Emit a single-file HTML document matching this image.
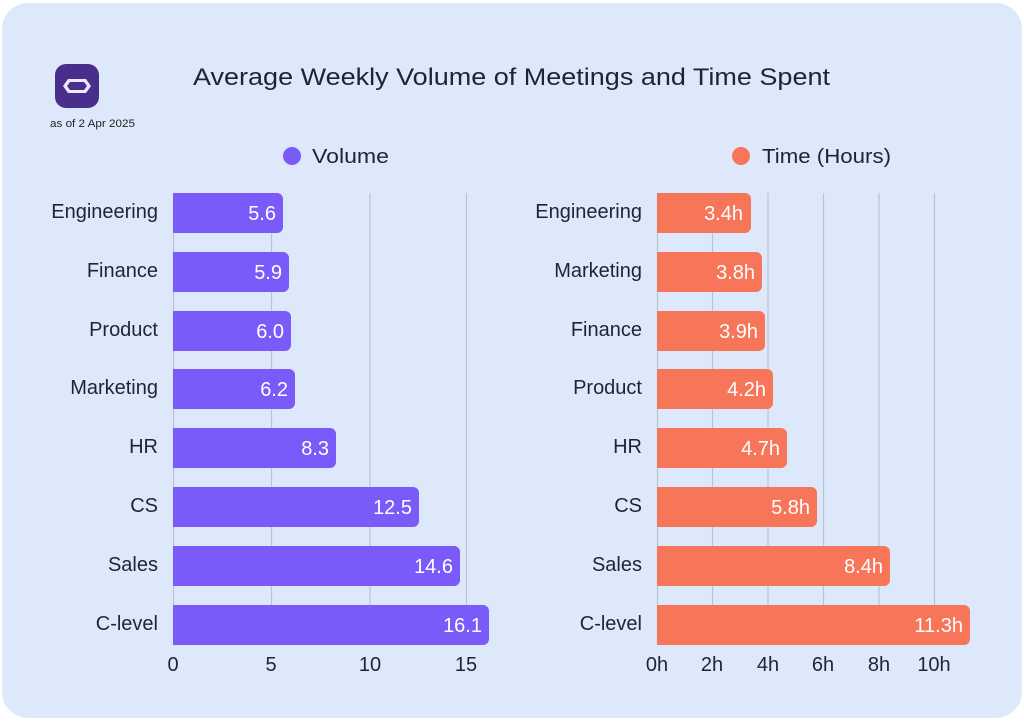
<!DOCTYPE html>
<html><head><meta charset="utf-8"><style>
body{margin:0;background:#fff;width:1024px;height:722px;overflow:hidden;font-family:"Liberation Sans",sans-serif}
</style></head><body>
<svg width="1024" height="722" xmlns="http://www.w3.org/2000/svg" font-family="Liberation Sans, sans-serif">
<rect x="2" y="3" width="1020" height="715" rx="26" fill="#dde9fb"/>
<rect x="55" y="64" width="44" height="44" rx="11" fill="#4a2e8c"/>
<polygon points="63,86 68,79 86,79 91,86 86,93 68,93" fill="#f1e6ff"/>
<polygon points="67,86 70,82 84,82 87,86 84,90 70,90" fill="#4a2e8c"/>
<text x="50" y="127" font-size="11" fill="#222" textLength="85" lengthAdjust="spacingAndGlyphs">as of 2 Apr 2025</text>
<text x="193" y="85" font-size="24" fill="#1f2433" font-weight="500" textLength="637" lengthAdjust="spacingAndGlyphs">Average Weekly Volume of Meetings and Time Spent</text>
<circle cx="292" cy="156" r="9" fill="#7a5af8"/>
<text x="312" y="163" font-size="20" fill="#1f2433" textLength="77" lengthAdjust="spacingAndGlyphs">Volume</text>
<circle cx="741" cy="156" r="9" fill="#f7765a"/>
<text x="762" y="163" font-size="20" fill="#1f2433" textLength="129" lengthAdjust="spacingAndGlyphs">Time (Hours)</text>
<g stroke="#b9c3d3" stroke-width="1.2">
<line x1="173.5" y1="193" x2="173.5" y2="645"/><line x1="271.5" y1="193" x2="271.5" y2="645"/><line x1="370" y1="193" x2="370" y2="645"/><line x1="466.5" y1="193" x2="466.5" y2="645"/>
<line x1="657.5" y1="193" x2="657.5" y2="645"/><line x1="712.5" y1="193" x2="712.5" y2="645"/><line x1="768" y1="193" x2="768" y2="645"/><line x1="823.5" y1="193" x2="823.5" y2="645"/><line x1="879" y1="193" x2="879" y2="645"/><line x1="934.5" y1="193" x2="934.5" y2="645"/>
</g>
<g font-size="20" fill="#1f2433" text-anchor="middle">
<text x="173" y="671">0</text><text x="271" y="671">5</text><text x="370" y="671">10</text><text x="466" y="671">15</text>
<text x="657" y="671">0h</text><text x="712" y="671">2h</text><text x="768" y="671">4h</text><text x="823" y="671">6h</text><text x="879" y="671">8h</text><text x="934" y="671">10h</text>
</g>
<g font-size="20">
<g fill="#7a5af8">
<path d="M173,193h104a6,6 0 0 1 6,6v28a6,6 0 0 1 -6,6h-104z"/>
<path d="M173,252h110a6,6 0 0 1 6,6v28a6,6 0 0 1 -6,6h-110z"/>
<path d="M173,311h112a6,6 0 0 1 6,6v28a6,6 0 0 1 -6,6h-112z"/>
<path d="M173,369h116a6,6 0 0 1 6,6v28a6,6 0 0 1 -6,6h-116z"/>
<path d="M173,428h157a6,6 0 0 1 6,6v28a6,6 0 0 1 -6,6h-157z"/>
<path d="M173,487h240a6,6 0 0 1 6,6v28a6,6 0 0 1 -6,6h-240z"/>
<path d="M173,546h281a6,6 0 0 1 6,6v28a6,6 0 0 1 -6,6h-281z"/>
<path d="M173,605h310a6,6 0 0 1 6,6v28a6,6 0 0 1 -6,6h-310z"/>
</g>
<g fill="#f7765a">
<path d="M657,193h88a6,6 0 0 1 6,6v28a6,6 0 0 1 -6,6h-88z"/>
<path d="M657,252h99a6,6 0 0 1 6,6v28a6,6 0 0 1 -6,6h-99z"/>
<path d="M657,311h102a6,6 0 0 1 6,6v28a6,6 0 0 1 -6,6h-102z"/>
<path d="M657,369h110a6,6 0 0 1 6,6v28a6,6 0 0 1 -6,6h-110z"/>
<path d="M657,428h124a6,6 0 0 1 6,6v28a6,6 0 0 1 -6,6h-124z"/>
<path d="M657,487h154a6,6 0 0 1 6,6v28a6,6 0 0 1 -6,6h-154z"/>
<path d="M657,546h227a6,6 0 0 1 6,6v28a6,6 0 0 1 -6,6h-227z"/>
<path d="M657,605h307a6,6 0 0 1 6,6v28a6,6 0 0 1 -6,6h-307z"/>
</g>
<g fill="#fff" text-anchor="end">
<text x="276" y="220">5.6</text><text x="282" y="279">5.9</text><text x="284" y="338">6.0</text><text x="288" y="396">6.2</text><text x="329" y="455">8.3</text><text x="412" y="514">12.5</text><text x="453" y="573">14.6</text><text x="482" y="632">16.1</text>
<text x="743" y="220">3.4h</text><text x="755" y="279">3.8h</text><text x="758" y="338">3.9h</text><text x="766" y="396">4.2h</text><text x="780" y="455">4.7h</text><text x="810" y="514">5.8h</text><text x="883" y="573">8.4h</text><text x="963" y="632">11.3h</text>
</g>
<g fill="#1f2433" text-anchor="end">
<text x="158" y="218">Engineering</text><text x="158" y="277">Finance</text><text x="158" y="336">Product</text><text x="158" y="394">Marketing</text><text x="158" y="453">HR</text><text x="158" y="512">CS</text><text x="158" y="571">Sales</text><text x="158" y="630">C-level</text>
<text x="642" y="218">Engineering</text><text x="642" y="277">Marketing</text><text x="642" y="336">Finance</text><text x="642" y="394">Product</text><text x="642" y="453">HR</text><text x="642" y="512">CS</text><text x="642" y="571">Sales</text><text x="642" y="630">C-level</text>
</g>
</g>
</svg>
</body></html>
